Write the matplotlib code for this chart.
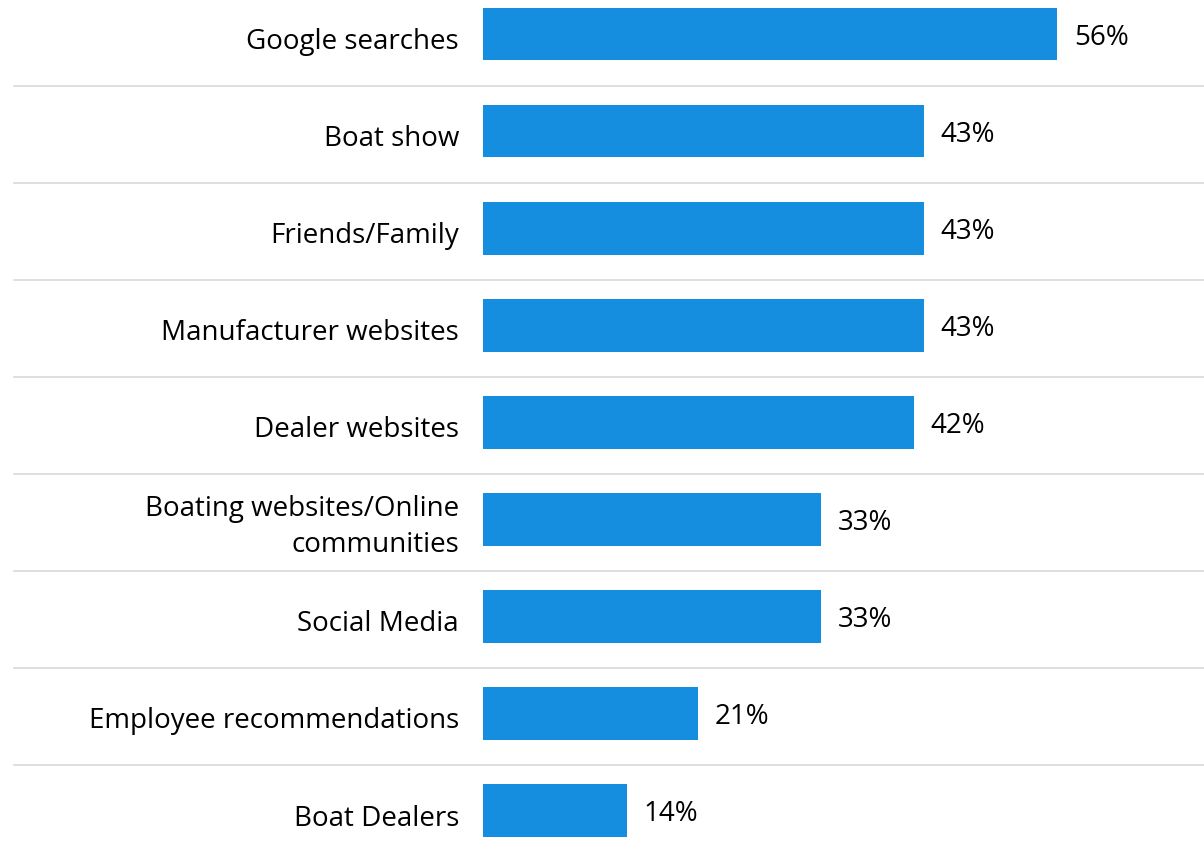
import matplotlib
matplotlib.use("Agg")
import matplotlib.pyplot as plt

categories = ["Google searches", "Boat show", "Friends/Family", "Manufacturer websites",
              "Dealer websites", "Boating websites/Online\ncommunities", "Social Media",
              "Employee recommendations", "Boat Dealers"]
values = [56, 43, 43, 43, 42, 33, 33, 21, 14]

BAR_COLOR = "#168ee0"
GRID_COLOR = "#d9d9d9"
plt.rcParams['font.family'] = ['Open Sans', 'DejaVu Sans']

fig = plt.figure(figsize=(12.04, 8.6), dpi=100)
ax = fig.add_axes([483/1204, 0, 721/1204, 1])

y = range(len(categories))
ax.barh(y, values, height=0.545, color=BAR_COLOR)

for i, (cat, v) in enumerate(zip(categories, values)):
    if "\n" in cat:
        ax.text(-2.35, i + 0.08, cat, ha="right", va="center", fontsize=20,
                color="black", linespacing=1.38)
    else:
        ax.text(-2.35, i + 0.155, cat, ha="right", va="baseline", fontsize=20,
                color="black")
    ax.text(v + 1.6, i + 0.113, f"{v}%", ha="left", va="baseline", fontsize=20,
            color="black")

# separators between rows
for i in range(len(categories) - 1):
    ax.plot([-45.7, 70.3], [i + 0.536, i + 0.536], color=GRID_COLOR, lw=1.2,
            clip_on=False)

ax.set_xlim(0, 70.3)
ax.set_ylim(8.51, -0.35)
ax.axis("off")

fig.savefig("out.png", dpi=100)
